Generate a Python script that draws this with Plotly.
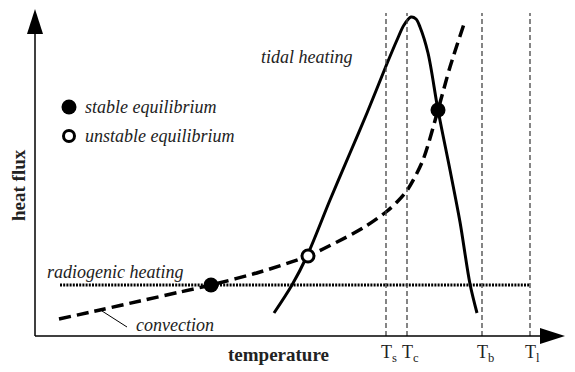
import plotly.graph_objects as go

# Schematic heat-flux vs temperature diagram (arbitrary units)
SERIF = "Liberation Serif"

# convection curve (dashed)
conv_t = [24, 65, 105, 145, 176, 225, 273, 302, 328, 351, 362, 373, 388, 403, 415, 429]
conv_q = [17, 26, 35, 44, 51, 64, 80, 94, 108, 124, 134, 147, 176, 226, 269, 312]

# tidal heating curve (solid)
tidal_t = [239, 257, 272, 295, 315, 332, 351, 362, 369, 376, 381, 385, 393, 403, 415, 425, 435, 442]
tidal_q = [23, 51, 80, 136, 183, 223, 270, 296, 311, 319, 317, 309, 283, 226, 166, 114, 52, 23]

# radiogenic heating level
radio_t = [25, 495]
radio_q = [51, 51]

# equilibrium points
stable_t = [176, 403]
stable_q = [51, 226]
unstable_t = [273]
unstable_q = [80]

# characteristic temperatures
temp_names = ["s", "c", "b", "l"]
temp_values = [351, 372, 447, 495]
vline_top = 323

# axis extent
x_end, x_tip = 505, 530
y_end, y_tip = 302, 327

fig = go.Figure()

for t in temp_values:
    fig.add_shape(type="line", x0=t, x1=t, y0=0, y1=vline_top, xref="x", yref="y",
                  line=dict(color="#444", width=1.3, dash="5px,3px"))

fig.add_trace(go.Scatter(x=radio_t, y=radio_q, mode="lines",
                         line=dict(color="black", width=3.2, dash="2px,1.2px")))
fig.add_trace(go.Scatter(x=conv_t, y=conv_q, mode="lines",
                         line=dict(color="black", width=3.5, dash="12px,6px", shape="spline", smoothing=0.8)))
fig.add_trace(go.Scatter(x=tidal_t, y=tidal_q, mode="lines",
                         line=dict(color="black", width=3, shape="spline", smoothing=0.9)))
fig.add_trace(go.Scatter(x=stable_t, y=stable_q, mode="markers",
                         marker=dict(color="black", size=15, line=dict(width=0))))
fig.add_trace(go.Scatter(x=unstable_t, y=unstable_q, mode="markers",
                         marker=dict(color="white", size=12, line=dict(color="black", width=3))))

# legend markers
fig.add_trace(go.Scatter(x=[34], y=[229], mode="markers",
                         marker=dict(color="black", size=15)))
fig.add_trace(go.Scatter(x=[34], y=[200], mode="markers",
                         marker=dict(color="white", size=11, line=dict(color="black", width=3))))

# axes with arrowheads
fig.add_shape(type="line", x0=0, x1=x_end, y0=0, y1=0, line=dict(color="black", width=1.5))
fig.add_shape(type="line", x0=0, x1=0, y0=0, y1=y_end, line=dict(color="black", width=1.5))
fig.add_shape(type="path", path=f"M {x_end},-8 L {x_tip},0 L {x_end},8 Z",
              fillcolor="black", line=dict(width=0))
fig.add_shape(type="path", path=f"M -8,{y_end} L 0,{y_tip} L 8,{y_end} Z",
              fillcolor="black", line=dict(width=0))

# convection leader line
fig.add_shape(type="line", x0=67, y0=25, x1=92, y1=9, line=dict(color="black", width=1))

italic = dict(family=SERIF, size=18, style="italic", color="#222")
fig.add_annotation(x=48, y=229, text="stable equilibrium", showarrow=False, xanchor="left", font=italic)
fig.add_annotation(x=48, y=200, text="unstable equilibrium", showarrow=False, xanchor="left", font=italic)
fig.add_annotation(x=272, y=279, text="tidal heating", showarrow=False, font=italic)
fig.add_annotation(x=80, y=64, text="radiogenic heating", showarrow=False, font=italic)
fig.add_annotation(x=140, y=11, text="convection", showarrow=False, font=italic)

for name, t in zip(temp_names, temp_values):
    fig.add_annotation(x=t, y=-17, text=f"T<sub>{name}</sub>", showarrow=False,
                       xanchor="left", xshift=-7,
                       font=dict(family=SERIF, size=18, color="#222"))

fig.add_annotation(x=243, y=-18, text="<b>temperature</b>", showarrow=False,
                   font=dict(family=SERIF, size=19, color="#222"))
fig.add_annotation(x=-17, y=151, text="<b>heat flux</b>", showarrow=False, textangle=-90,
                   font=dict(family=SERIF, size=19, color="#222"))

# page body has an 8px margin, so the figure is shrunk and the ranges shifted to compensate
fig.update_layout(
    width=567, height=364,
    margin=dict(l=0, r=0, t=0, b=0),
    paper_bgcolor="white", plot_bgcolor="white",
    showlegend=False,
    xaxis=dict(range=[-27, 540], visible=False, fixedrange=True),
    yaxis=dict(range=[-36, 328], visible=False, fixedrange=True),
)

fig.write_html("out.html")
